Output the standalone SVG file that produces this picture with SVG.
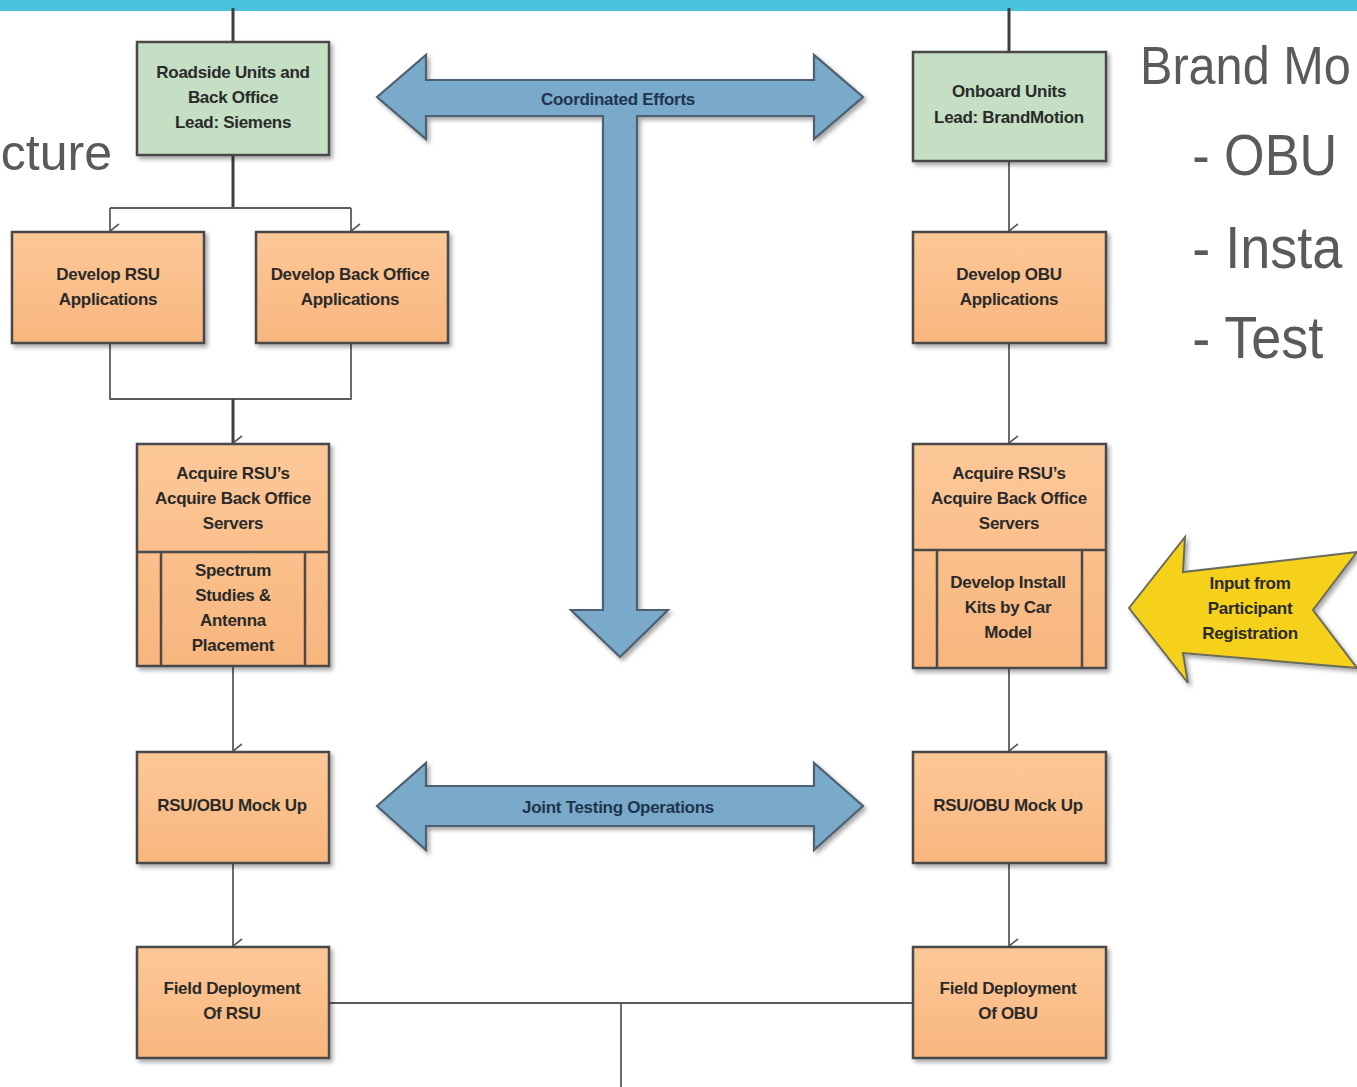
<svg xmlns="http://www.w3.org/2000/svg" width="1357" height="1087" viewBox="0 0 1357 1087">
<defs>
<style>
.box{stroke:#4a4a4a;stroke-width:2.5;filter:url(#sh)}
.green{fill:#c4dfc3}
.orange{fill:url(#og)}
.t{font-family:"Liberation Sans",Arial,sans-serif;font-weight:bold;font-size:17px;fill:#2a2a2a;text-anchor:middle;letter-spacing:-0.3px}
.big{font-family:"Liberation Sans",Arial,sans-serif;fill:#5a5a5a}
.c{fill:none;stroke:#5c5c5c;stroke-width:1.8}
.cd{fill:none;stroke:#3f3f3f;stroke-width:3}
.blue{fill:#7aaac9;stroke:#4d5f70;stroke-width:2.2;filter:url(#sh)}
.bt{font-family:"Liberation Sans",Arial,sans-serif;font-weight:bold;font-size:17px;fill:#1e3450;text-anchor:middle;letter-spacing:-0.3px}
.div{stroke:#4a4a4a;stroke-width:2.5;fill:none}
</style>
<linearGradient id="og" x1="0" y1="0" x2="0" y2="1">
<stop offset="0" stop-color="#fcc898"/>
<stop offset="1" stop-color="#f8b67e"/>
</linearGradient>
<filter id="sh" x="-10%" y="-10%" width="125%" height="125%">
<feDropShadow dx="2.5" dy="3" stdDeviation="2" flood-color="#000" flood-opacity="0.35"/>
</filter>
<marker id="ah" markerWidth="16" markerHeight="11" refX="8" refY="10" orient="auto" markerUnits="userSpaceOnUse" viewBox="0 0 16 11">
<path d="M1,1 L8,10 L15,1" fill="none" stroke="#5c5c5c" stroke-width="1.6"/>
</marker>
</defs>

<rect x="0" y="0" width="1357" height="11" fill="#4cc3dc"/>

<g id="side-text">
<text class="big" x="112" y="170" font-size="50" text-anchor="end">cture</text>
<g transform="translate(1140,0) scale(0.9,1)">
<text class="big" x="0" y="84" font-size="54">Brand Mo</text>
<text class="big" x="58" y="175" font-size="58">- OBU</text>
<text class="big" x="58" y="268" font-size="60">- Insta</text>
<text class="big" x="58" y="358" font-size="60">- Test</text>
</g>
</g>

<g id="connectors">
<path class="cd" d="M233,8 V42"/>
<path class="cd" d="M1009,8 V52"/>
<path class="cd" d="M233,155 V208"/>
<path class="c" d="M110,208 H351"/>
<path class="c" d="M110,208 V231" marker-end="url(#ah)"/>
<path class="c" d="M351,208 V231" marker-end="url(#ah)"/>
<path class="c" d="M110,343 V399 H351 V343"/>
<path class="cd" d="M233,399 V443" marker-end="url(#ah)"/>
<path class="c" d="M233,666 V751" marker-end="url(#ah)"/>
<path class="c" d="M233,863 V946" marker-end="url(#ah)"/>
<path class="c" d="M1009,161 V231" marker-end="url(#ah)"/>
<path class="c" d="M1009,343 V443" marker-end="url(#ah)"/>
<path class="c" d="M1009,668 V751" marker-end="url(#ah)"/>
<path class="c" d="M1009,863 V946" marker-end="url(#ah)"/>
<path class="c" d="M329,1003 H913"/>
<path class="c" d="M621,1003 V1087"/>
</g>

<g id="coordinated-efforts">
<path class="blue" d="M377,97 L426,55 L426,80 L814,80 L814,55 L863,97 L814,139 L814,116 L637,116 L637,610 L668,610 L620,657 L571,610 L603,610 L603,116 L426,116 L426,139 Z"/>
<text class="bt" x="618" y="105">Coordinated Efforts</text>
</g>

<g id="joint-testing">
<path class="blue" d="M377,806 L426,763 L426,786 L814,786 L814,763 L863,806 L814,850 L814,826 L426,826 L426,850 Z"/>
<text class="bt" x="618" y="813">Joint Testing Operations</text>
</g>

<g id="input-registration">
<path d="M1129,608 L1185,537 L1183,572 L1357,552 L1313,610 L1357,668 L1183,653 L1188,683 Z" fill="#f5d11c" stroke="#6a6a5a" stroke-width="2" filter="url(#sh)"/>
<text class="t" x="1250" y="589" font-size="15.5">Input from</text>
<text class="t" x="1250" y="614" font-size="15.5">Participant</text>
<text class="t" x="1250" y="639" font-size="15.5">Registration</text>
</g>

<g id="roadside-units">
<rect class="box green" x="137" y="42" width="192" height="113"/>
<text class="t" x="233" y="78">Roadside Units and</text>
<text class="t" x="233" y="103">Back Office</text>
<text class="t" x="233" y="128">Lead: Siemens</text>
</g>

<g id="onboard-units">
<rect class="box green" x="913" y="52" width="193" height="109"/>
<text class="t" x="1009" y="97">Onboard Units</text>
<text class="t" x="1009" y="123">Lead: BrandMotion</text>
</g>

<g id="develop-rsu">
<rect class="box orange" x="12" y="232" width="192" height="111"/>
<text class="t" x="108" y="280">Develop RSU</text>
<text class="t" x="108" y="305">Applications</text>
</g>

<g id="develop-back-office">
<rect class="box orange" x="256" y="232" width="192" height="111"/>
<text class="t" x="350" y="280">Develop Back Office</text>
<text class="t" x="350" y="305">Applications</text>
</g>

<g id="develop-obu">
<rect class="box orange" x="913" y="232" width="193" height="111"/>
<text class="t" x="1009" y="280">Develop OBU</text>
<text class="t" x="1009" y="305">Applications</text>
</g>

<g id="acquire-left">
<rect class="box orange" x="137" y="444" width="192" height="222"/>
<path class="div" d="M137,552 H329 M161,552 V666 M305,552 V666"/>
<text class="t" x="233" y="479">Acquire RSU’s</text>
<text class="t" x="233" y="504">Acquire Back Office</text>
<text class="t" x="233" y="529">Servers</text>
<text class="t" x="233" y="576">Spectrum</text>
<text class="t" x="233" y="601">Studies &amp;</text>
<text class="t" x="233" y="626">Antenna</text>
<text class="t" x="233" y="651">Placement</text>
</g>

<g id="acquire-right">
<rect class="box orange" x="913" y="444" width="193" height="224"/>
<path class="div" d="M913,550 H1106 M937,550 V668 M1082,550 V668"/>
<text class="t" x="1009" y="479">Acquire RSU’s</text>
<text class="t" x="1009" y="504">Acquire Back Office</text>
<text class="t" x="1009" y="529">Servers</text>
<text class="t" x="1008" y="588">Develop Install</text>
<text class="t" x="1008" y="613">Kits by Car</text>
<text class="t" x="1008" y="638">Model</text>
</g>

<g id="mockup-left">
<rect class="box orange" x="137" y="752" width="192" height="111"/>
<text class="t" x="232" y="811">RSU/OBU Mock Up</text>
</g>

<g id="mockup-right">
<rect class="box orange" x="913" y="752" width="193" height="111"/>
<text class="t" x="1008" y="811">RSU/OBU Mock Up</text>
</g>

<g id="field-rsu">
<rect class="box orange" x="137" y="947" width="192" height="111"/>
<text class="t" x="232" y="994">Field Deployment</text>
<text class="t" x="232" y="1019">Of RSU</text>
</g>

<g id="field-obu">
<rect class="box orange" x="913" y="947" width="193" height="111"/>
<text class="t" x="1008" y="994">Field Deployment</text>
<text class="t" x="1008" y="1019">Of OBU</text>
</g>
</svg>
